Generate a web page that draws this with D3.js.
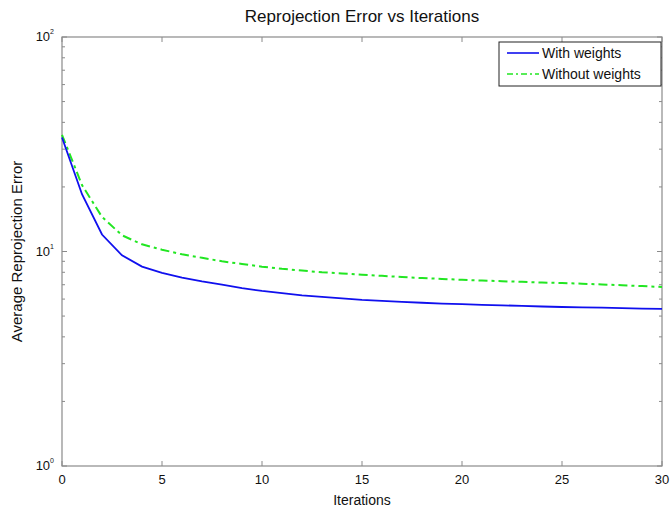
<!DOCTYPE html>
<html>
<head>
<meta charset="utf-8">
<script src="https://cdn.jsdelivr.net/npm/d3@7"></script>
<style>
  body { margin: 0; background: #fff; }
  text { font-family: "Liberation Sans", Arial, sans-serif; fill: #111; }
</style>
</head>
<body>
<div id="chart"></div>
<script>
var width = 670, height = 512;

// data
var iterations = d3.range(0, 31);
var withWeights = [34, 18.5, 12, 9.6, 8.5, 7.95, 7.55, 7.25, 7.0, 6.75, 6.55, 6.4, 6.25, 6.15, 6.05, 5.95,
  5.88, 5.82, 5.77, 5.72, 5.68, 5.64, 5.61, 5.58, 5.54, 5.51, 5.49, 5.47, 5.45, 5.42, 5.40];
var withoutWeights = [35, 20.4, 14.5, 11.9, 10.8, 10.2, 9.7, 9.35, 9.0, 8.75, 8.5, 8.3, 8.15, 8.0, 7.9, 7.8,
  7.7, 7.6, 7.52, 7.45, 7.38, 7.32, 7.27, 7.22, 7.17, 7.13, 7.08, 7.02, 6.96, 6.9, 6.83];
var xTicks = [0, 5, 10, 15, 20, 25, 30];
var yExponents = [0, 1, 2];
var seriesNames = ["With weights", "Without weights"];

var margin = {top: 37, right: 8, bottom: 46, left: 62};
var w = width - margin.left - margin.right,
    h = height - margin.top - margin.bottom;

var svg = d3.select("#chart").append("svg")
    .attr("width", width)
    .attr("height", height);

var g = svg.append("g").attr("transform", "translate(" + margin.left + "," + margin.top + ")");

var x = d3.scaleLinear().domain([0, 30]).range([0, w]);
var y = d3.scaleLog().domain([1, 100]).range([h, 0]);

var axisColor = "#8a8a8a";

// box
g.append("rect")
    .attr("width", w).attr("height", h)
    .attr("fill", "none").attr("stroke", axisColor).attr("stroke-width", 1.2);

// x ticks (inside, top and bottom)
xTicks.forEach(function(t) {
  g.append("line").attr("x1", x(t)).attr("x2", x(t)).attr("y1", h).attr("y2", h - 5).attr("stroke", axisColor);
  g.append("line").attr("x1", x(t)).attr("x2", x(t)).attr("y1", 0).attr("y2", 5).attr("stroke", axisColor);
  g.append("text")
    .attr("x", x(t)).attr("y", h + 18)
    .attr("text-anchor", "middle")
    .attr("font-size", 13)
    .text(t);
});

// y ticks major + minor
var minor = [];
[1, 10].forEach(function(b) { for (var k = 2; k <= 9; k++) minor.push(b * k); });
minor.forEach(function(v) {
  g.append("line").attr("x1", 0).attr("x2", 3).attr("y1", y(v)).attr("y2", y(v)).attr("stroke", axisColor);
  g.append("line").attr("x1", w).attr("x2", w - 3).attr("y1", y(v)).attr("y2", y(v)).attr("stroke", axisColor);
});
yExponents.forEach(function(e) {
  var v = Math.pow(10, e);
  g.append("line").attr("x1", 0).attr("x2", 5).attr("y1", y(v)).attr("y2", y(v)).attr("stroke", axisColor);
  g.append("line").attr("x1", w).attr("x2", w - 5).attr("y1", y(v)).attr("y2", y(v)).attr("stroke", axisColor);
  var t = g.append("text")
    .attr("x", -8).attr("y", y(v) + 4)
    .attr("text-anchor", "end")
    .attr("font-size", 13);
  t.append("tspan").text("10");
  t.append("tspan").attr("dy", -7).attr("font-size", 7).text(e);
});

// lines
var line = d3.line()
    .x(function(d, i) { return x(iterations[i]); })
    .y(function(d) { return y(d); });

g.append("path")
    .datum(withoutWeights)
    .attr("d", line)
    .attr("fill", "none")
    .attr("stroke", "#22e622")
    .attr("stroke-width", 2)
    .attr("stroke-dasharray", "9,4,3,4");

g.append("path")
    .datum(withWeights)
    .attr("d", line)
    .attr("fill", "none")
    .attr("stroke", "#1010ee")
    .attr("stroke-width", 1.8);

// title + axis labels
svg.append("text")
  .text("Reprojection Error vs Iterations")
  .attr("x", margin.left + w / 2).attr("y", 22)
  .attr("text-anchor", "middle")
  .attr("font-size", 17);

svg.append("text")
  .text("Iterations")
  .attr("x", margin.left + w / 2).attr("y", 505)
  .attr("text-anchor", "middle")
  .attr("font-size", 14);

svg.append("text")
  .text("Average Reprojection Error")
  .attr("transform", "translate(22," + (margin.top + h / 2) + ") rotate(-90)")
  .attr("text-anchor", "middle")
  .attr("font-size", 15);

// legend
var leg = svg.append("g").attr("transform", "translate(499,42)");
leg.append("rect")
    .attr("width", 162).attr("height", 44)
    .attr("fill", "#fff").attr("stroke", "#222").attr("stroke-width", 1);
var legColors = ["#1010ee", "#22e622"];
var legDash = [null, "6,3,2,3"];
seriesNames.forEach(function(name, i) {
  leg.append("line")
    .attr("x1", 8).attr("x2", 40)
    .attr("y1", 11 + i * 21).attr("y2", 11 + i * 21)
    .attr("stroke", legColors[i]).attr("stroke-width", 1.6)
    .attr("stroke-dasharray", legDash[i]);
  leg.append("text")
    .text(name)
    .attr("x", 43).attr("y", 16 + i * 21)
    .attr("font-size", 14);
});
</script>
</body>
</html>
